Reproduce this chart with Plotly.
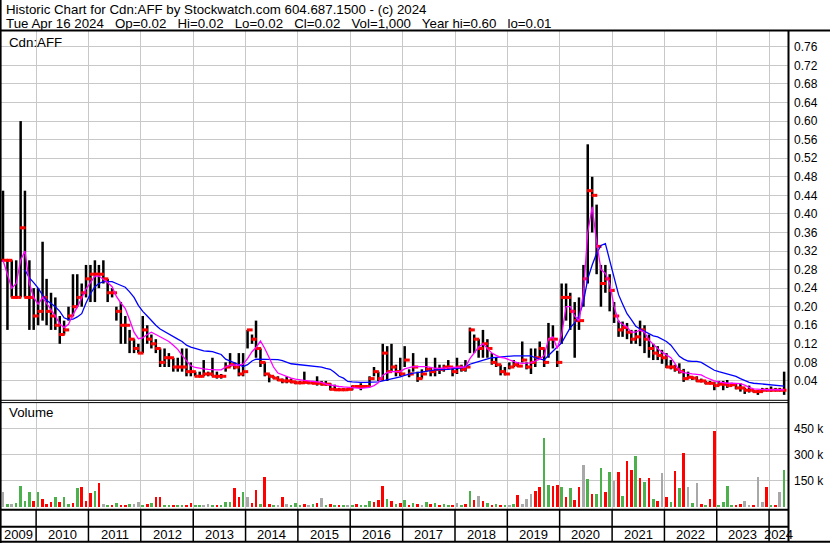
import pandas as pd
import plotly.graph_objects as go

W, H = 830, 543
FONT = "Liberation Sans, Arial, sans-serif"

# ---------------- data (monthly, May 2009 .. Apr 2024) ----------------
high = [
    0.45, 0.30, 0.30, 0.30, 0.60, 0.45, 0.30, 0.24,                           # 2009 May-Dec
    0.24, 0.34, 0.26, 0.23, 0.22, 0.18, 0.17, 0.20, 0.27, 0.27, 0.25, 0.29,     # 2010
    0.29, 0.30, 0.29, 0.30, 0.26, 0.24, 0.20, 0.21, 0.18, 0.15, 0.13, 0.12,     # 2011
    0.18, 0.16, 0.14, 0.13, 0.11, 0.11, 0.10, 0.09, 0.09, 0.11, 0.11, 0.08,     # 2012
    0.06, 0.06, 0.085, 0.06, 0.09, 0.06, 0.055, 0.08, 0.10, 0.08, 0.10, 0.10,   # 2013
    0.15, 0.14, 0.17, 0.11, 0.08, 0.055, 0.05, 0.05, 0.045, 0.05, 0.045, 0.04,  # 2014
    0.04, 0.06, 0.04, 0.04, 0.05, 0.04, 0.04, 0.035, 0.032, 0.025, 0.025, 0.025,  # 2015
    0.03, 0.03, 0.035, 0.03, 0.05, 0.07, 0.06, 0.12, 0.115, 0.12, 0.075, 0.09,  # 2016
    0.115, 0.065, 0.10, 0.06, 0.065, 0.09, 0.07, 0.09, 0.075, 0.075, 0.085, 0.07,  # 2017
    0.09, 0.075, 0.085, 0.155, 0.14, 0.13, 0.15, 0.13, 0.10, 0.09, 0.075, 0.07,   # 2018
    0.08, 0.085, 0.08, 0.125, 0.08, 0.11, 0.11, 0.125, 0.11, 0.165, 0.16, 0.105,  # 2019
    0.25, 0.25, 0.23, 0.21, 0.22, 0.29, 0.55, 0.48, 0.42, 0.29, 0.29, 0.27,     # 2020
    0.21, 0.17, 0.168, 0.165, 0.15, 0.15, 0.17, 0.16, 0.14, 0.12, 0.115, 0.107,  # 2021
    0.10, 0.085, 0.075, 0.078, 0.066, 0.06, 0.05, 0.05, 0.045, 0.04, 0.04, 0.038,  # 2022
    0.04, 0.04, 0.042, 0.036, 0.035, 0.035, 0.025, 0.03, 0.02, 0.02, 0.025, 0.025,  # 2023
    0.028, 0.025, 0.025, 0.06,                                                # 2024 Jan-Apr
]
low = [
    0.30, 0.15, 0.22, 0.22, 0.22, 0.22, 0.15, 0.15,
    0.16, 0.17, 0.16, 0.15, 0.15, 0.12, 0.14, 0.17, 0.18, 0.20, 0.20, 0.22,
    0.21, 0.21, 0.24, 0.25, 0.21, 0.22, 0.17, 0.12, 0.12, 0.10, 0.10, 0.10,
    0.10, 0.12, 0.11, 0.10, 0.07, 0.07, 0.07, 0.06, 0.06, 0.06, 0.05, 0.05,
    0.05, 0.05, 0.05, 0.05, 0.05, 0.045, 0.045, 0.06, 0.07, 0.065, 0.05, 0.05,
    0.11, 0.12, 0.09, 0.07, 0.05, 0.037, 0.045, 0.04, 0.035, 0.035, 0.035, 0.033,
    0.033, 0.035, 0.033, 0.033, 0.03, 0.03, 0.03, 0.02, 0.02, 0.02, 0.02, 0.02,
    0.02, 0.025, 0.02, 0.025, 0.028, 0.05, 0.04, 0.04, 0.04, 0.06, 0.05, 0.05,
    0.07, 0.048, 0.06, 0.038, 0.045, 0.06, 0.05, 0.05, 0.055, 0.06, 0.065, 0.05,
    0.055, 0.06, 0.06, 0.10, 0.10, 0.09, 0.09, 0.09, 0.075, 0.07, 0.052, 0.052,
    0.065, 0.07, 0.07, 0.08, 0.065, 0.055, 0.07, 0.09, 0.07, 0.09, 0.11, 0.07,
    0.12, 0.17, 0.15, 0.09, 0.15, 0.20, 0.25, 0.36, 0.27, 0.20, 0.23, 0.19,
    0.165, 0.135, 0.135, 0.13, 0.12, 0.12, 0.115, 0.10, 0.09, 0.085, 0.085, 0.077,
    0.068, 0.065, 0.06, 0.056, 0.038, 0.045, 0.042, 0.038, 0.037, 0.033, 0.033, 0.02,
    0.03, 0.02, 0.025, 0.03, 0.022, 0.017, 0.012, 0.015, 0.015, 0.01, 0.017, 0.018,
    0.017, 0.018, 0.018, 0.01,
]
close = [
    0.30, 0.30, 0.22, 0.22, 0.37, 0.22, 0.22, 0.18,
    0.19, 0.22, 0.19, 0.18, 0.16, 0.14, 0.15, 0.18, 0.20, 0.22, 0.23, 0.26,
    0.27, 0.27, 0.27, 0.26, 0.23, 0.23, 0.19, 0.16, 0.16, 0.13, 0.11, 0.10,
    0.15, 0.13, 0.12, 0.11, 0.08, 0.09, 0.09, 0.07, 0.07, 0.07, 0.06, 0.06,
    0.05, 0.05, 0.055, 0.055, 0.05, 0.05, 0.05, 0.07, 0.075, 0.07, 0.055, 0.06,
    0.15, 0.13, 0.11, 0.08, 0.055, 0.05, 0.046, 0.042, 0.04, 0.04, 0.038, 0.036,
    0.036, 0.037, 0.036, 0.035, 0.035, 0.033, 0.033, 0.022, 0.021, 0.021, 0.021, 0.022,
    0.028, 0.028, 0.028, 0.028, 0.045, 0.06, 0.045, 0.10, 0.06, 0.07, 0.06, 0.055,
    0.085, 0.055, 0.07, 0.045, 0.055, 0.065, 0.06, 0.065, 0.065, 0.07, 0.07, 0.06,
    0.07, 0.065, 0.07, 0.15, 0.13, 0.11, 0.12, 0.11, 0.08, 0.075, 0.06, 0.055,
    0.07, 0.075, 0.072, 0.085, 0.07, 0.08, 0.09, 0.11, 0.08, 0.13, 0.13, 0.08,
    0.22, 0.22, 0.19, 0.17, 0.17, 0.26, 0.45, 0.44, 0.33, 0.25, 0.26, 0.235,
    0.18, 0.15, 0.155, 0.145, 0.13, 0.135, 0.15, 0.13, 0.11, 0.10, 0.095, 0.09,
    0.07, 0.07, 0.065, 0.06, 0.045, 0.048, 0.046, 0.04, 0.04, 0.035, 0.035, 0.03,
    0.033, 0.033, 0.03, 0.032, 0.025, 0.025, 0.02, 0.02, 0.017, 0.017, 0.02, 0.02,
    0.02, 0.02, 0.02, 0.02,
]
ma_short = [
    0.30, 0.27, 0.24, 0.25, 0.30, 0.32, 0.25, 0.22,
    0.205, 0.22, 0.207, 0.195, 0.18, 0.163, 0.155, 0.162, 0.183, 0.199, 0.218, 0.238,
    0.252, 0.266, 0.266, 0.259, 0.252, 0.243, 0.222, 0.208, 0.196, 0.172, 0.145, 0.131,
    0.133, 0.14, 0.145, 0.14, 0.135, 0.13, 0.125, 0.117, 0.108, 0.095, 0.083, 0.073,
    0.069, 0.067, 0.066, 0.065, 0.064, 0.064, 0.064, 0.07, 0.074, 0.074, 0.074, 0.076,
    0.088, 0.103, 0.112, 0.126, 0.11, 0.09, 0.07, 0.057, 0.053, 0.05, 0.046, 0.044,
    0.042, 0.041, 0.04, 0.039, 0.038, 0.037, 0.033, 0.031, 0.030, 0.028, 0.027, 0.026,
    0.025, 0.024, 0.024, 0.025, 0.026, 0.03, 0.036, 0.052, 0.058, 0.06, 0.06, 0.06,
    0.066, 0.068, 0.071, 0.071, 0.071, 0.071, 0.069, 0.067, 0.067, 0.067, 0.068, 0.069,
    0.069, 0.069, 0.07, 0.088, 0.10, 0.113, 0.12, 0.11, 0.10, 0.095, 0.091, 0.089,
    0.086, 0.083, 0.079, 0.078, 0.078, 0.079, 0.083, 0.087, 0.095, 0.13, 0.135, 0.11,
    0.14, 0.20, 0.20, 0.18, 0.17, 0.23, 0.36, 0.415, 0.34, 0.28, 0.272, 0.25,
    0.20, 0.168, 0.162, 0.156, 0.145, 0.145, 0.15, 0.145, 0.128, 0.118, 0.11, 0.102,
    0.096, 0.09, 0.078, 0.062, 0.058, 0.056, 0.055, 0.054, 0.053, 0.048, 0.044, 0.04,
    0.038, 0.036, 0.035, 0.035, 0.035, 0.034, 0.031, 0.026, 0.023, 0.022, 0.022, 0.021,
    0.021, 0.021, 0.021, 0.021,
]
ma_long = [
    None, None, None, None, None, 0.279, 0.262, 0.252,
    0.24, 0.225, 0.214, 0.207, 0.20, 0.19, 0.176, 0.172, 0.173, 0.178, 0.185, 0.208,
    0.228, 0.243, 0.25, 0.254, 0.254, 0.254, 0.25, 0.246, 0.242, 0.232, 0.22, 0.203,
    0.19, 0.18, 0.17, 0.16, 0.152, 0.146, 0.142, 0.135, 0.13, 0.125, 0.117, 0.113,
    0.11, 0.107, 0.105, 0.104, 0.103, 0.1, 0.097, 0.087, 0.083, 0.079, 0.075, 0.071,
    0.075, 0.083, 0.087, 0.087, 0.087, 0.087, 0.086, 0.086, 0.084, 0.08, 0.077, 0.076,
    0.075, 0.074, 0.073, 0.072, 0.071, 0.07, 0.067, 0.065, 0.058, 0.05, 0.046, 0.039,
    0.038, 0.037, 0.037, 0.037, 0.037, 0.037, 0.038, 0.04, 0.042, 0.044, 0.046, 0.049,
    0.052, 0.055, 0.057, 0.058, 0.059, 0.06, 0.062, 0.064, 0.064, 0.065, 0.065, 0.066,
    0.067, 0.068, 0.071, 0.076, 0.079, 0.082, 0.085, 0.088, 0.09, 0.091, 0.092, 0.092,
    0.093, 0.094, 0.094, 0.094, 0.094, 0.094, 0.09, 0.087, 0.085, 0.095, 0.105, 0.113,
    0.122, 0.14, 0.155, 0.165, 0.18, 0.21, 0.26, 0.29, 0.315, 0.332, 0.336, 0.30,
    0.26, 0.226, 0.206, 0.185, 0.172, 0.158, 0.152, 0.147, 0.142, 0.137, 0.135, 0.13,
    0.125, 0.117, 0.105, 0.093, 0.087, 0.083, 0.082, 0.082, 0.08, 0.075, 0.069, 0.063,
    0.06, 0.057, 0.055, 0.052, 0.05, 0.045, 0.041, 0.037, 0.035, 0.034, 0.033, 0.032,
    0.031, 0.03, 0.03, 0.029,
]
volume_k = [
    82, 15, 14, 20, 121, 34, 82, 34,
    82, 43, 14, 24, 53, 28, 57, 14, 20, 105, 111, 30,
    76, 92, 134, 14, 10, 8, 18, 5, 8, 12, 15, 24,
    8, 12, 20, 57, 57, 6, 8, 5, 6, 10, 8, 20,
    6, 8, 10, 14, 8, 6, 10, 28, 24, 105, 57, 86,
    57, 20, 97, 15, 173, 14, 10, 8, 53, 14, 10, 20,
    10, 15, 8, 12, 20, 50, 10, 15, 8, 6, 10, 6,
    8, 12, 6, 8, 30, 25, 40, 120, 45, 30, 15, 20,
    40, 10, 20, 15, 10, 25, 12, 20, 10, 15, 10, 8,
    20, 10, 15, 90, 40, 60, 30, 20, 10, 15, 8, 10,
    8, 12, 68, 15, 43, 72, 92, 111, 398, 127, 121, 127,
    111, 57, 107, 40, 111, 243, 160, 72, 72, 223, 86, 198,
    146, 202, 60, 262, 213, 294, 165, 140, 165, 43, 30, 192,
    57, 24, 204, 107, 309, 111, 20, 134, 14, 10, 43, 440,
    5, 24, 121, 10, 8, 14, 34, 10, 5, 173, 24, 115,
    10, 5, 82, 211,
]
# r = down, g = up, n = unchanged
volume_dir = list(
    "ngnggggr"
    "grrrgrggrgrr"
    "rgrngrgrrgnn"
    "grgrrggrggrr"
    "ggnngrgggrrg"
    "nrrgrrgnrngg"
    "grngrngrgrgn"
    "grgggrrrgrgr"
    "grgrngrgrggr"
    "ngrgrnrgrgrg"
    "ngrnnnrrggrr"
    "grgrrngrggrg"
    "nrgrrgrgrgrn"
    "rgrgrngnrgrr"
    "ggggrrnnrnnr"
    "grng"
)

price_ticks = [0.04, 0.08, 0.12, 0.16, 0.20, 0.24, 0.28, 0.32, 0.36, 0.40,
               0.44, 0.48, 0.52, 0.56, 0.60, 0.64, 0.68, 0.72, 0.76]
volume_ticks = [150000, 300000, 450000]
volume_tick_text = ["150 k", "300 k", "450 k"]
years = list(range(2009, 2025))

header_1 = "Historic Chart for Cdn:AFF by Stockwatch.com 604.687.1500 - (c) 2024"
header_2 = ("Tue Apr 16 2024\u00a0\u00a0 Op=0.02\u00a0\u00a0 Hi=0.02\u00a0\u00a0 Lo=0.02\u00a0\u00a0 "
            "Cl=0.02\u00a0\u00a0 Vol=1,000\u00a0\u00a0 Year hi=0.60\u00a0\u00a0 lo=0.01")

# ---------------- derived ----------------
months = pd.date_range("2009-05-01", "2024-04-01", freq="MS")
centers = months + pd.Timedelta(days=14)
opens = [close[0]] + close[:-1]
x_start, x_end = pd.Timestamp("2009-04-24"), pd.Timestamp("2024-05-12")


def px(y):
    return 1 - y / H


PLOT_R = 788 / W
price_dom = [px(400), px(31)]
vol_dom = [px(509), px(403)]
price_range = [(399.5 - 400) / 464, (399.5 - 31) / 464]
vol_range = [-(2.5 / 25.85) * 150000, (506.5 - 403) / 25.85 * 150000]

bx, by = [], []
for d, h, l in zip(centers, high, low):
    bx += [d, d, None]
    by += [l, h, None]

colors = {"r": "#ff0000", "g": "#4cb04c", "n": "#a8a8a8"}

fig = go.Figure()
fig.add_trace(go.Scatter(x=bx, y=by, mode="lines", line=dict(color="black", width=2.5),
                         hoverinfo="skip", xaxis="x", yaxis="y"))
fig.add_trace(go.Scatter(x=centers - pd.Timedelta(days=6), y=opens, mode="markers",
                         marker=dict(symbol="square", size=3, color="#ff0000", line_width=0),
                         xaxis="x", yaxis="y"))
fig.add_trace(go.Scatter(x=centers + pd.Timedelta(days=6), y=close, mode="markers",
                         marker=dict(symbol="square", size=3, color="#ff0000", line_width=0),
                         xaxis="x", yaxis="y"))
fig.add_trace(go.Scatter(x=centers, y=ma_long, mode="lines", line=dict(color="#0000ff", width=1.3),
                         connectgaps=False, xaxis="x", yaxis="y"))
fig.add_trace(go.Scatter(x=centers, y=ma_short, mode="lines", line=dict(color="#ff00ff", width=1.3),
                         xaxis="x", yaxis="y"))
fig.add_trace(go.Bar(x=centers, y=[v * 1000 for v in volume_k],
                     marker=dict(color=[colors[c] for c in volume_dir], line_width=0),
                     width=18 * 86400000, xaxis="x2", yaxis="y2"))

grid = "#c8c8c8"
xcommon = dict(range=[x_start, x_end], domain=[0, PLOT_R], showticklabels=False, ticks="",
               showgrid=True, gridcolor=grid, gridwidth=1, tick0="2010-01-01", dtick="M12",
               zeroline=False, showline=False)
fig.update_layout(
    width=W, height=H, margin=dict(l=0, r=0, t=0, b=0),
    paper_bgcolor="white", plot_bgcolor="white", showlegend=False,
    font=dict(family=FONT, size=12, color="black"),
    xaxis=dict(anchor="y", **xcommon),
    xaxis2=dict(anchor="y2", matches="x", **xcommon),
    yaxis=dict(domain=price_dom, range=price_range, side="right", anchor="x",
               tickvals=price_ticks, tickformat=".2f", ticks="", ticklabelstandoff=5,
               showgrid=True, gridcolor=grid, zeroline=False, showline=False,
               tickfont=dict(family=FONT, size=12, color="black")),
    yaxis2=dict(domain=vol_dom, range=vol_range, side="right", anchor="x2",
                tickvals=volume_ticks, ticktext=volume_tick_text, ticks="", ticklabelstandoff=5,
                showgrid=True, gridcolor=grid, zeroline=False, showline=False,
                tickfont=dict(family=FONT, size=12, color="black")),
    bargap=0,
)

shapes = []


def hline(y, x0=0, x1=PLOT_R, w=2):
    shapes.append(dict(type="line", xref="paper", yref="paper", x0=x0, x1=x1,
                       y0=px(y), y1=px(y), line=dict(color="black", width=w)))


hline(30.5, 0, 1, 2)          # under header
hline(400.3, w=1)             # double rule between panels
hline(402.6, w=1)
hline(509.8, w=2)             # under volume panel
hline(526.8, w=2)             # between bottom rows
hline(541.8, 0, 1, 2)         # bottom border
shapes.append(dict(type="line", xref="paper", yref="paper", x0=PLOT_R + 0.5 / W, x1=PLOT_R + 0.5 / W,
                   y0=px(542), y1=px(30), line=dict(color="black", width=2)))
shapes.append(dict(type="line", xref="paper", yref="paper", x0=0.6 / W, x1=0.6 / W,
                   y0=px(543), y1=px(0), line=dict(color="black", width=2)))
for yr in years[1:]:
    shapes.append(dict(type="line", xref="x", yref="paper", x0=f"{yr}-01-01", x1=f"{yr}-01-01",
                       y0=px(542), y1=px(510), line=dict(color="black", width=1.5)))

annotations = [
    dict(text=header_1, xref="paper", yref="paper", x=4 / W, y=px(9.5), xanchor="left",
         yanchor="middle", showarrow=False, font=dict(family=FONT, size=13.3, color="black")),
    dict(text=header_2, xref="paper", yref="paper", x=4 / W, y=px(23), xanchor="left",
         yanchor="middle", showarrow=False, font=dict(family=FONT, size=13.3, color="black")),
    dict(text="Cdn:AFF", xref="paper", yref="paper", x=7 / W, y=px(42), xanchor="left",
         yanchor="middle", showarrow=False, font=dict(family=FONT, size=13.3, color="black")),
    dict(text="Volume", xref="paper", yref="paper", x=7 / W, y=px(413), xanchor="left",
         yanchor="middle", showarrow=False, font=dict(family=FONT, size=13.3, color="black")),
]
for yr in years:
    a = max(x_start, pd.Timestamp(f"{yr}-01-01"))
    b = min(x_end, pd.Timestamp(f"{yr + 1}-01-01"))
    mid = a + (b - a) / 2
    annotations.append(dict(text=str(yr), xref="x", yref="paper", x=mid, y=px(534.5),
                            xanchor="center", yanchor="middle", showarrow=False,
                            font=dict(family=FONT, size=13, color="black")))

fig.update_layout(shapes=shapes, annotations=annotations)
fig.write_html("out.html", config={"displayModeBar": False},
               post_script="document.body.style.margin='0';")
